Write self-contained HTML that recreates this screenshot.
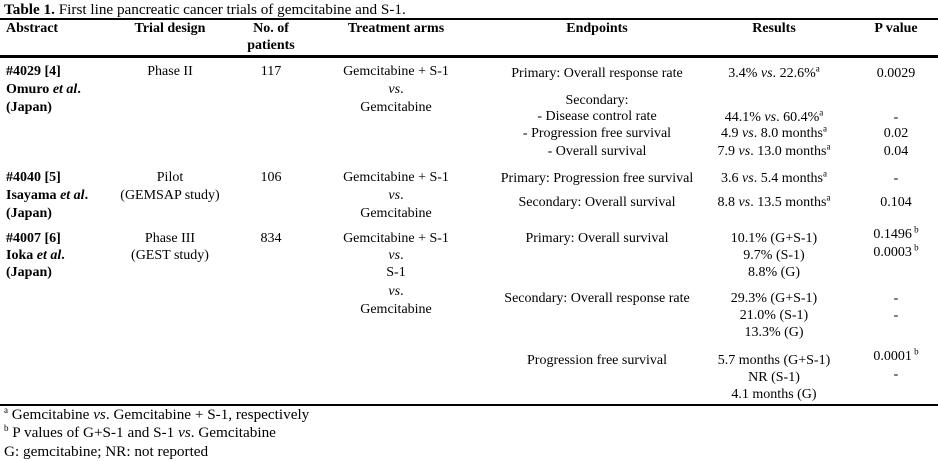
<!DOCTYPE html>
<html><head><meta charset="utf-8"><style>
body{margin:0;width:938px;height:461px;background:#fff;position:relative;font-family:"Liberation Serif",serif;font-size:14px;color:#000;overflow:hidden}
div{position:absolute;white-space:nowrap;line-height:18px}
.c{transform:translateX(-50%)}
.b{font-weight:bold}
.l{left:0;width:938px;background:#000;height:2px}
.f{font-size:15.2px}
sup{font-size:9px;line-height:0}
</style></head><body>
<div class="f" style="left:4px;top:1px"><b>Table 1.</b> First line pancreatic cancer trials of gemcitabine and S-1.</div>
<div class="l" style="top:18px"></div>
<div class="b" style="left:6px;top:20px">Abstract</div>
<div class="b c" style="left:170px;top:20px">Trial design</div>
<div class="b c" style="left:271px;top:20px;text-align:center;line-height:17px">No. of<br>patients</div>
<div class="b c" style="left:396px;top:20px">Treatment arms</div>
<div class="b c" style="left:597px;top:20px">Endpoints</div>
<div class="b c" style="left:774px;top:20px">Results</div>
<div class="b c" style="left:896px;top:20px">P value</div>
<div class="l" style="top:55px;height:3px"></div>

<div class="b" style="left:6px;top:63px">#4029 [4]</div>
<div class="b" style="left:6px;top:81px">Omuro <i>et al</i>.</div>
<div class="b" style="left:6px;top:99px">(Japan)</div>
<div class="c" style="left:170px;top:63px">Phase II</div>
<div class="c" style="left:271px;top:63px">117</div>
<div class="c" style="left:396px;top:63px">Gemcitabine + S-1</div>
<div class="c" style="left:396px;top:81px"><i>vs</i>.</div>
<div class="c" style="left:396px;top:99px">Gemcitabine</div>
<div class="c" style="left:597px;top:65px">Primary: Overall response rate</div>
<div class="c" style="left:597px;top:92px">Secondary:</div>
<div class="c" style="left:597px;top:108px">- Disease control rate</div>
<div class="c" style="left:597px;top:125px">- Progression free survival</div>
<div class="c" style="left:597px;top:143px">- Overall survival</div>
<div class="c" style="left:774px;top:65px">3.4% <i>vs</i>. 22.6%<sup>a</sup></div>
<div class="c" style="left:774px;top:109px">44.1% <i>vs</i>. 60.4%<sup>a</sup></div>
<div class="c" style="left:774px;top:125px">4.9 <i>vs</i>. 8.0 months<sup>a</sup></div>
<div class="c" style="left:774px;top:143px">7.9 <i>vs</i>. 13.0 months<sup>a</sup></div>
<div class="c" style="left:896px;top:65px">0.0029</div>
<div class="c" style="left:896px;top:109px">-</div>
<div class="c" style="left:896px;top:125px">0.02</div>
<div class="c" style="left:896px;top:143px">0.04</div>

<div class="b" style="left:6px;top:169px">#4040 [5]</div>
<div class="b" style="left:6px;top:187px">Isayama <i>et al</i>.</div>
<div class="b" style="left:6px;top:205px">(Japan)</div>
<div class="c" style="left:170px;top:169px">Pilot</div>
<div class="c" style="left:170px;top:187px">(GEMSAP study)</div>
<div class="c" style="left:271px;top:169px">106</div>
<div class="c" style="left:396px;top:169px">Gemcitabine + S-1</div>
<div class="c" style="left:396px;top:187px"><i>vs</i>.</div>
<div class="c" style="left:396px;top:205px">Gemcitabine</div>
<div class="c" style="left:597px;top:170px">Primary: Progression free survival</div>
<div class="c" style="left:597px;top:194px">Secondary: Overall survival</div>
<div class="c" style="left:774px;top:170px">3.6 <i>vs</i>. 5.4 months<sup>a</sup></div>
<div class="c" style="left:774px;top:194px">8.8 <i>vs</i>. 13.5 months<sup>a</sup></div>
<div class="c" style="left:896px;top:170px">-</div>
<div class="c" style="left:896px;top:194px">0.104</div>

<div class="b" style="left:6px;top:230px">#4007 [6]</div>
<div class="b" style="left:6px;top:247px">Ioka <i>et al</i>.</div>
<div class="b" style="left:6px;top:264px">(Japan)</div>
<div class="c" style="left:170px;top:230px">Phase III</div>
<div class="c" style="left:170px;top:247px">(GEST study)</div>
<div class="c" style="left:271px;top:230px">834</div>
<div class="c" style="left:396px;top:230px">Gemcitabine + S-1</div>
<div class="c" style="left:396px;top:247px"><i>vs</i>.</div>
<div class="c" style="left:396px;top:264px">S-1</div>
<div class="c" style="left:396px;top:283px"><i>vs</i>.</div>
<div class="c" style="left:396px;top:301px">Gemcitabine</div>
<div class="c" style="left:597px;top:230px">Primary: Overall survival</div>
<div class="c" style="left:774px;top:230px">10.1% (G+S-1)</div>
<div class="c" style="left:774px;top:247px">9.7% (S-1)</div>
<div class="c" style="left:774px;top:264px">8.8% (G)</div>
<div class="c" style="left:896px;top:226px">0.1496<sup> b</sup></div>
<div class="c" style="left:896px;top:244px">0.0003<sup> b</sup></div>
<div class="c" style="left:597px;top:290px">Secondary: Overall response rate</div>
<div class="c" style="left:774px;top:290px">29.3% (G+S-1)</div>
<div class="c" style="left:774px;top:307px">21.0% (S-1)</div>
<div class="c" style="left:774px;top:324px">13.3% (G)</div>
<div class="c" style="left:896px;top:290px">-</div>
<div class="c" style="left:896px;top:307px">-</div>
<div class="c" style="left:597px;top:352px">Progression free survival</div>
<div class="c" style="left:774px;top:352px">5.7 months (G+S-1)</div>
<div class="c" style="left:774px;top:369px">NR (S-1)</div>
<div class="c" style="left:774px;top:386px">4.1 months (G)</div>
<div class="c" style="left:896px;top:348px">0.0001<sup> b</sup></div>
<div class="c" style="left:896px;top:366px">-</div>

<div class="l" style="top:404px"></div>
<div class="f" style="left:4px;top:406px"><sup>a</sup> Gemcitabine <i>vs</i>. Gemcitabine + S-1, respectively</div>
<div class="f" style="left:4px;top:424px"><sup>b</sup> P values of G+S-1 and S-1 <i>vs</i>. Gemcitabine</div>
<div class="f" style="left:4px;top:443px">G: gemcitabine; NR: not reported</div>
</body></html>
